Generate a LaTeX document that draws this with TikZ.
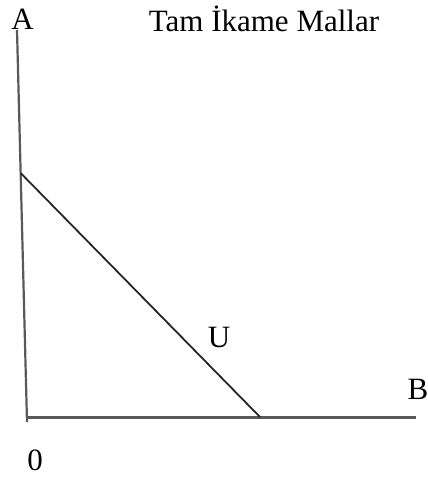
\documentclass[tikz,border=0pt]{standalone}
\usepackage{fontspec}
\setmainfont{Liberation Serif}
\begin{document}
\begin{tikzpicture}[x=1pt,y=-1pt,
  lbl/.style={inner sep=0pt,font=\fontsize{31}{34}\selectfont},
  axis/.style={line width=2.2pt,draw=black!65},
  budget/.style={line width=1.8pt,draw=black!85}]
\useasboundingbox (0,0) rectangle (428,477);
\coordinate (vtop) at (17,30);
\coordinate (vbot) at (27,422);
\coordinate (hstart) at (27,417);
\coordinate (hend) at (416,417);
\coordinate (dtop) at (20.6,173);
\coordinate (dbot) at (260,417);
\draw[axis] (vtop) -- (vbot);
\draw[axis,line width=3pt] (hstart) -- (hend);
\draw[budget] (dtop) -- (dbot);
\node[lbl] (A) at (22.5,19) {A};
\node[lbl] (title) at (264,19) {Tam İkame Mallar};
\node[lbl] (U) at (219,337) {U};
\node[lbl] (B) at (418,389) {B};
\node[lbl] (zero) at (35,460) {0};
\end{tikzpicture}
\end{document}
